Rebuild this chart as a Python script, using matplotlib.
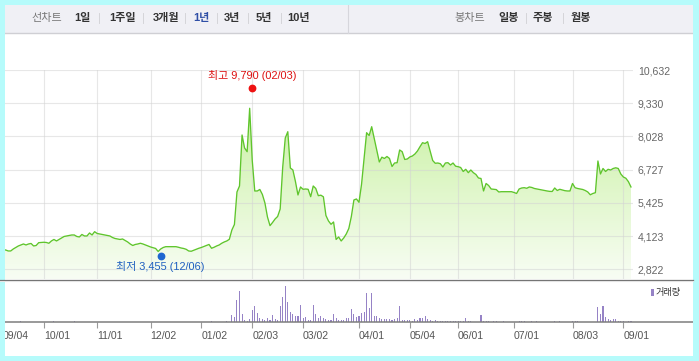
import numpy as np
import matplotlib
matplotlib.use('Agg')
import matplotlib.pyplot as plt
from matplotlib.patches import Rectangle, PathPatch
from matplotlib.colors import LinearSegmentedColormap
from matplotlib.path import Path
from matplotlib.transforms import ScaledTranslation

plt.rcParams['font.family'] = ['Liberation Sans', 'Noto Sans CJK KR', 'DejaVu Sans']

# ---------------- data ----------------
prices = [
    3576, 3576, 3537, 3537, 3615, 3674, 3733, 3772, 3811, 3772,
    3811, 3831, 3733, 3752, 3862, 3870, 3878, 3870, 3839, 3929,
    3988, 3929, 3988, 4046, 4105, 4125, 4144, 4164, 4164, 4105,
    4086, 4184, 4125, 4125, 4242, 4164, 4293, 4223, 4203, 4184,
    4164, 4144, 4125, 4066, 4027, 4007, 3988, 4007, 3948, 3890,
    3811, 3752, 3792, 3811, 3839, 3811, 3772, 3733, 3694, 3666,
    3635, 3517, 3615, 3674, 3705, 3705, 3705, 3705, 3705, 3682,
    3654, 3635, 3603, 3537, 3525, 3564, 3603, 3643, 3674, 3713,
    3752, 3792, 3643, 3682, 3733, 3772, 3839, 3890, 3929, 3995,
    4360, 4576, 5850, 6085, 8084, 7574, 7429, 9131, 7104, 5889,
    5889, 5948, 5752, 5418, 4870, 4529, 4654, 4791, 4889, 5183,
    6830, 7966, 8213, 6790, 6712, 6261, 5732, 6046, 5955, 5967,
    5955, 5665, 6085, 5987, 5705, 5724, 5661, 4928, 4713, 4583,
    4674, 3988, 4086, 3929, 4046, 4203, 4419, 4889, 5536, 5575,
    5446, 6144, 7143, 8174, 8064, 8409, 7947, 7476, 7026, 7214,
    7163, 7241, 7163, 6849, 6986, 6998, 7496, 7429, 7124, 7143,
    7222, 7261, 7339, 7457, 7625, 7782, 7751, 7821, 7457, 7084,
    6975, 6986, 6959, 6830, 6986, 6998, 6908, 6986, 6861, 6841,
    6810, 6653, 6739, 6606, 6712, 6606, 6536, 6398, 6379, 5889,
    6183, 6104, 5967, 5955, 5944, 5850, 5861, 5861, 5861, 5861,
    5861, 5830, 5791, 5967, 6006, 6018, 5995, 6046, 6026, 5987,
    5967, 5948, 5928, 5905, 5889, 5873, 5869, 6006, 5908, 5955,
    5928, 5901, 5889, 5889, 6183, 6018, 5987, 5967, 5948, 5908,
    5850, 5740, 5791, 5822, 7065, 6555, 6771, 6653, 6739, 6712,
    6771, 6798, 6771, 6555, 6438, 6387, 6253, 6046,
]

vol_days = [
    7, 20, 28, 82, 88,
    90, 91, 92, 93, 94, 95, 96, 97, 98, 99,
    100, 101, 102, 103, 104, 105, 106, 107, 108, 109,
    110, 111, 112, 113, 114, 115, 116, 117, 118, 119,
    120, 121, 122, 123, 124, 125, 126, 127, 128, 129,
    130, 131, 132, 133, 134, 135, 136, 137, 138, 139,
    140, 141, 142, 143, 144, 145, 146, 147, 148, 149,
    150, 151, 152, 153, 154, 155, 156, 157, 158, 159,
    160, 161, 162, 163, 164, 165, 166, 167, 168, 169,
    170, 171, 172, 173, 174, 175, 176, 177, 178, 179,
    180, 181, 182, 183, 184, 188, 189, 190, 191, 193,
    194, 197, 203, 204, 205, 208, 210, 217, 219, 224,
    225, 226, 234, 235, 236, 237, 238, 239, 240, 241,
    242, 243, 244, 246, 247,
]
vol_values = [
    3900, 3900, 3900, 3900, 3900,
    21900, 17100, 66900, 93900, 24900, 6900, 3900, 9900, 36900, 48900,
    27900, 14100, 9900, 6900, 12900, 6900, 21900, 9900, 6900, 48900,
    75900, 110100, 60900, 30900, 24900, 18900, 18900, 51900, 12900, 15900,
    6900, 6900, 51900, 24900, 12900, 18900, 12900, 9900, 6900, 6900,
    24900, 12900, 6900, 6900, 6900, 12900, 12900, 39900, 24900, 17100,
    18900, 27900, 30900, 87900, 42900, 87900, 18900, 18900, 12900, 9900,
    9900, 9900, 9900, 6900, 9900, 12900, 48900, 6900, 6900, 6900,
    6900, 3900, 9900, 6900, 12900, 12900, 18900, 9900, 6900, 3900,
    6900, 4500, 4500, 4500, 4500, 4500, 4500, 4500, 4500, 4500,
    4500, 4500, 12900, 3900, 3900, 21900, 3900, 3900, 3900, 3900,
    3900, 3900, 3900, 3900, 3900, 3900, 3900, 3900, 3900, 3900,
    3900, 3900, 45900, 24900, 48900, 15900, 9900, 6900, 9900, 9900,
    3900, 3900, 3900, 3900, 3900,
]

tick_days = [0, 16, 37, 58, 78, 98, 118, 140, 160, 179, 201, 224, 244]
tick_labels = ['09/04', '10/01', '11/01', '12/02', '01/02', '02/03', '03/02',
               '04/01', '05/04', '06/01', '07/01', '08/03', '09/01']
y_ticks = [2822, 4123, 5425, 6727, 8028, 9330, 10632]
y_tick_labels = ['2,822', '4,123', '5,425', '6,727', '8,028', '9,330', '10,632']

high_day, high_value, high_label = 98, 9790, '최고 9,790 (02/03)'
low_day, low_value, low_label = 62, 3455, '최저 3,455 (12/06)'

line_title = '선차트'
periods = ['1일', '1주일', '3개월', '1년', '3년', '5년', '10년']
selected_period = '1년'
candle_title = '봉차트'
candle_types = ['일봉', '주봉', '월봉']
volume_label = '거래량'

# ---------------- layout ----------------
W, H = 699, 361
fig = plt.figure(figsize=(W / 100, H / 100), dpi=100)
fig.patch.set_facecolor('white')


def rect(l, t, r, b):
    return [l / W, 1 - b / H, (r - l) / W, (b - t) / H]


X0, STEP = 3.1, 2.542           # pixel of day 0, pixels per trading day
PY_TOP, PY_BOT = 70.0, 279.3     # price panel pixel rows
PER_PX = (y_ticks[-1] - y_ticks[0]) / 6 / 33.2

# background / toolbar
bg = fig.add_axes([0, 0, 1, 1], zorder=0)
bg.set_xlim(0, W)
bg.set_ylim(H, 0)
bg.axis('off')
bg.add_patch(Rectangle((5, 4.5), 688, 28.5, facecolor='#f0f0f5', edgecolor='none'))
bg.plot([5, 693], [33, 33], color='#cfcfd4', lw=1.0)
bg.plot([348, 348], [4.5, 33], color='#d6d6dc', lw=0.8)

TY = 17.5
FS = 8.0
bg.text(47, TY, line_title, ha='center', va='center', fontsize=FS, color='#777777')
period_x = [82.5, 122.5, 166, 201.5, 232, 264, 299]
for px, lab in zip(period_x, periods):
    col = '#2f4fa6' if lab == selected_period else '#333333'
    bg.text(px, TY, lab, ha='center', va='center', fontsize=FS, color=col,
            fontweight='bold')
for sx in [99.3, 142.7, 185, 216.7, 248.3, 281]:
    bg.plot([sx, sx], [12.5, 22.5], color='#d5d5d9', lw=0.7)
bg.text(470, TY, candle_title, ha='center', va='center', fontsize=FS, color='#777777')
for px, lab in zip([509, 543, 581], candle_types):
    bg.text(px, TY, lab, ha='center', va='center', fontsize=FS, color='#333333',
            fontweight='bold')
for sx in [525.7, 562.7]:
    bg.plot([sx, sx], [12.5, 22.5], color='#d5d5d9', lw=0.7)

# volume legend
bg.add_patch(Rectangle((651, 289), 2.7, 6.7, facecolor='#9683c6', edgecolor='none'))
bg.text(656, 292.7, volume_label, ha='left', va='center', fontsize=6.6, color='#333333')

# ---------------- price panel ----------------
ax = fig.add_axes(rect(0, PY_TOP, 633, PY_BOT), zorder=1)
ax.set_facecolor('none')
days = np.arange(len(prices))
xmin, xmax = (0 - X0) / STEP, (633 - X0) / STEP
ymax = y_ticks[-1]
ymin = ymax - (PY_BOT - PY_TOP) * PER_PX
ax.set_xlim(xmin, xmax)
ax.set_ylim(ymin, ymax)

cmap = LinearSegmentedColormap.from_list(
    'g', [(0.0, '#f8fdf4'), (0.55, '#d9f5be'), (1.0, '#bfeb92')])
grad = np.linspace(0, 1, 256).reshape(-1, 1)
img = ax.imshow(grad, extent=[xmin, xmax, ymin, ymax], origin='lower',
                aspect='auto', cmap=cmap, zorder=1, interpolation='bilinear')
verts = [(days[0], ymin)] + list(zip(days, prices)) + [(days[-1], ymin)]
clip = PathPatch(Path(verts), transform=ax.transData, facecolor='none',
                 edgecolor='none')
ax.add_patch(clip)
img.set_clip_path(clip)

ax.plot(days, prices, color='#5fc52c', lw=0.95, zorder=3)

ax.set_axisbelow(False)
ax.set_yticks(y_ticks)
ax.set_yticklabels(y_tick_labels)
ax.set_xticks(tick_days[1:])
ax.grid(True, color='#d4d4d4', alpha=0.55, lw=0.8, zorder=2.5)
ax.tick_params(axis='x', length=0, labelbottom=False)
ax.tick_params(axis='y', length=0, labelleft=False, labelright=True, pad=3.6,
               labelsize=7.6, labelcolor='#666666')
for s in ax.spines.values():
    s.set_visible(False)

up = ScaledTranslation(0, 2.3 / 72, fig.dpi_scale_trans)
down = ScaledTranslation(0, -2.1 / 72, fig.dpi_scale_trans)
ax.plot([high_day], [high_value], 'o', color='#ee1111', ms=4.6, zorder=4,
        transform=ax.transData + up, clip_on=False)
ax.annotate(high_label, xy=(high_day, high_value), xytext=(0, 11.2),
            textcoords='offset points', ha='center', va='center',
            fontsize=7.9, color='#dd1111', annotation_clip=False)
ax.plot([low_day], [low_value], 'o', color='#1e66d0', ms=4.6, zorder=4,
        transform=ax.transData + down, clip_on=False)
ax.annotate(low_label, xy=(low_day, low_value), xytext=(0, -9.8),
            textcoords='offset points', ha='center', va='center',
            fontsize=7.9, color='#1e5fc0', annotation_clip=False)

# ---------------- volume panel ----------------
vax = fig.add_axes(rect(0, 281, 693, 322.3), zorder=1)
vax.set_facecolor('none')
vax.set_xlim((0 - X0) / STEP, (693 - X0) / STEP)
VSCALE = 3000
vax.set_ylim(0, (322.3 - 281) * VSCALE)
vax.bar(vol_days, vol_values, width=0.42, color='#9683c6', linewidth=0,
        antialiased=False, zorder=2)
for k in ['top', 'left', 'right']:
    vax.spines[k].set_visible(False)
vax.spines['bottom'].set_color('#7d7d7d')
vax.spines['bottom'].set_linewidth(1.1)
vax.set_yticks([])
vax.set_xticks(tick_days)
vax.set_xticklabels(tick_labels)
vax.tick_params(axis='x', length=4.0, width=0.8, color='#9a9a9a', pad=2.2,
                labelsize=7.6, labelcolor='#555555')
for lab in vax.get_xticklabels():
    lab.set_ha('left')

# ---------------- overlay: panel separator and cyan frame ----------------
top = fig.add_axes([0, 0, 1, 1], zorder=10)
top.set_xlim(0, W)
top.set_ylim(H, 0)
top.axis('off')
top.set_facecolor('none')
top.plot([0, 693], [279.6, 279.6], color='#6f6f6f', lw=0.9)
top.plot([0, 693], [280.8, 280.8], color='#e4e4e4', lw=0.8)
cyan = '#b6fbfb'
for (x, y, w, h) in [(0, 0, 5, H), (693, 0, 6, H), (0, 0, W, 4.5), (0, 356, W, 5)]:
    top.add_patch(Rectangle((x, y), w, h, facecolor=cyan, edgecolor='none'))

fig.savefig('out.png', dpi=100, facecolor='white')
